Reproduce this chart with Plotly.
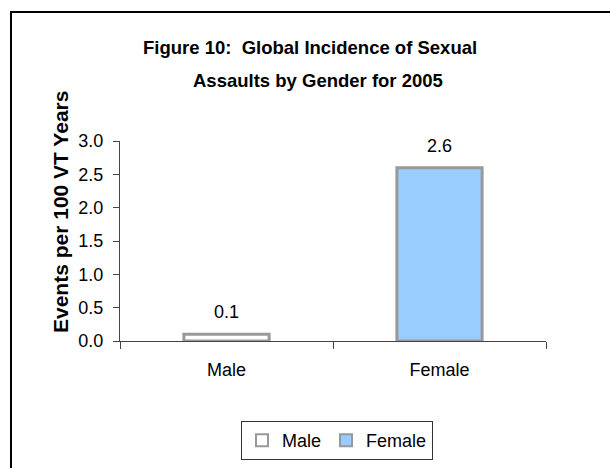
import plotly.graph_objects as go

categories = ["Male", "Female"]
values = [0.1, 2.6]
label_texts = ["0.1", "2.6"]
fill_colors = ["#FFFFFF", "#99CCFF"]
y_ticks = [0, 0.5, 1.0, 1.5, 2.0, 2.5, 3.0]
y_tick_labels = ["0.0", "0.5", "1.0", "1.5", "2.0", "2.5", "3.0"]
title_lines = ["Figure 10:  Global Incidence of Sexual", "Assaults by Gender for 2005"]
y_title = "Events per 100 VT Years"

FONT = "Liberation Sans, Arial, sans-serif"
W, H = 610, 468
L, R, T, B = 120, 64, 141, 127
PW, PH = W - L - R, H - T - B

def px(x):
    return (x - L) / PW

def py(y):
    return (H - B - y) / PH

fig = go.Figure()
for cat, val, col in zip(categories, values, fill_colors):
    fig.add_trace(go.Bar(
        x=[cat], y=[val], name=cat,
        marker=dict(color=col, line=dict(color="#999999", width=3)),
        showlegend=True,
    ))

annotations = []
for cat, val, txt in zip(categories, values, label_texts):
    annotations.append(dict(x=cat, y=val, xref="x", yref="y", text=txt,
                            showarrow=False, yshift=22,
                            font=dict(family=FONT, size=18, color="#000")))

annotations.append(dict(x=px(310), y=py(48), xref="paper", yref="paper",
                        text="<b>%s</b>" % title_lines[0], showarrow=False,
                        xanchor="center", yanchor="middle",
                        font=dict(family=FONT, size=18.5, color="#000")))
annotations.append(dict(x=px(318), y=py(80), xref="paper", yref="paper",
                        text="<b>%s</b>" % title_lines[1], showarrow=False,
                        xanchor="center", yanchor="middle",
                        font=dict(family=FONT, size=18.5, color="#000")))
annotations.append(dict(x=px(60), y=py(212), xref="paper", yref="paper",
                        text="<b>%s</b>" % y_title, showarrow=False, textangle=-90,
                        xanchor="center", yanchor="middle",
                        font=dict(family=FONT, size=21, color="#000")))

fig.update_layout(
    width=W, height=H,
    margin=dict(l=L, r=R, t=T, b=B, pad=0, autoexpand=False),
    paper_bgcolor="white", plot_bgcolor="white",
    bargap=0.6,
    barmode="group",
    font=dict(family=FONT, size=18, color="#000"),
    annotations=annotations,
    showlegend=True,
    legend=dict(orientation="h", x=px(337), xanchor="center", y=py(421), yanchor="top",
                bordercolor="#333333", borderwidth=1, bgcolor="white",
                font=dict(family=FONT, size=18, color="#000"),
                itemsizing="constant", tracegroupgap=0, itemwidth=30),
    shapes=[dict(type="rect", xref="paper", yref="paper",
                 x0=px(11), x1=px(700), y0=py(600), y1=py(12),
                 line=dict(color="#000000", width=2), fillcolor="rgba(0,0,0,0)",
                 layer="below")],
)

fig.update_xaxes(
    type="category", range=[-0.5, 1.5],
    showline=True, linecolor="#444444", linewidth=1,
    ticks="outside", tickson="boundaries", ticklen=7, tickcolor="#444444",
    showgrid=False, zeroline=False, ticklabelstandoff=12,
    tickfont=dict(family=FONT, size=18, color="#000"),
)
fig.update_yaxes(
    range=[0, 3.0], tickvals=y_ticks, ticktext=y_tick_labels,
    showline=True, linecolor="#444444", linewidth=1,
    ticks="outside", ticklen=6, tickcolor="#444444",
    showgrid=False, zeroline=False, ticklabelstandoff=6,
    tickfont=dict(family=FONT, size=18, color="#000"),
)

fig.write_html("out.html")
